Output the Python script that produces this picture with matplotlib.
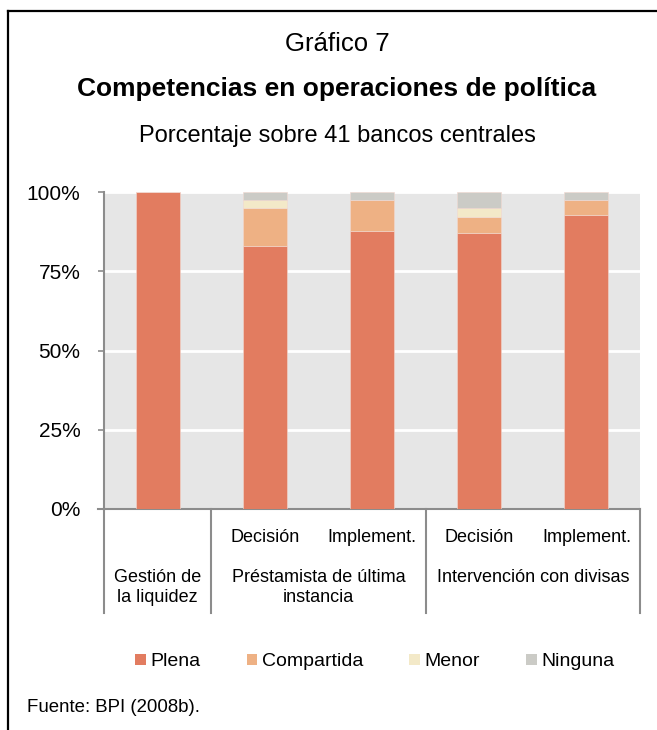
import numpy as np
import matplotlib
matplotlib.use('Agg')
import matplotlib.pyplot as plt
from matplotlib.patches import Patch
from matplotlib.lines import Line2D

plt.rcParams['font.family'] = ['Liberation Sans', 'DejaVu Sans']

# Porcentaje de bancos centrales por tipo de competencia
sub_labels = ['', 'Decisión', 'Implement.', 'Decisión', 'Implement.']
group_labels = ['Gestión de\nla liquidez', 'Préstamista de última\ninstancia',
                'Intervención con divisas']
group_spans = [(0, 0), (1, 2), (3, 4)]

series_names = ['Plena', 'Compartida', 'Menor', 'Ninguna']
plena = [100.0, 82.9, 87.8, 87.2, 92.7]
compartida = [0.0, 12.2, 9.8, 5.0, 4.9]
menor = [0.0, 2.4, 0.0, 2.6, 0.0]
ninguna = [0.0, 2.5, 2.4, 5.2, 2.4]

COLORS = ['#E27C60', '#EEB184', '#F3E9C8', '#CBCBC6']

fig = plt.figure(figsize=(6.57, 7.30), dpi=100, facecolor='white')
W, H = 657, 730

ax = fig.add_axes([104 / W, 1 - 509 / H, 536 / W, 317 / H])
ax.set_facecolor('#E6E6E6')

x = np.arange(len(plena))
bottom = np.zeros(len(plena))
for name, vals, col in zip(series_names, [plena, compartida, menor, ninguna], COLORS):
    vals = np.array(vals)
    ax.bar(x, vals, width=0.41, bottom=bottom, color=col, edgecolor='#F2D8D0',
           linewidth=0.4, zorder=3)
    bottom += vals

ax.set_xlim(-0.5, len(plena) - 0.5)
ax.set_ylim(0, 100)
ax.set_yticks([0, 25, 50, 75, 100])
ax.set_yticklabels(['0%', '25%', '50%', '75%', '100%'])
ax.tick_params(axis='y', labelsize=15, length=4, width=1.2, color='#8C8C8C',
               pad=13, labelcolor='black')
ax.set_xticks([])
ax.grid(axis='y', color='white', linewidth=2, zorder=1)
for side in ['top', 'right']:
    ax.spines[side].set_visible(False)
for side in ['left', 'bottom']:
    ax.spines[side].set_color('#8C8C8C')
    ax.spines[side].set_linewidth(1.5)

# Separadores y etiquetas de categorías bajo el eje
trans = ax.get_xaxis_transform()
sep_bottom = -(613 - 509) / 317
for pos in [-0.5, 0.5, 2.5, 4.5]:
    ax.add_line(Line2D([pos, pos], [0, sep_bottom], transform=trans, color='#8C8C8C',
                       linewidth=1.5, clip_on=False))
ax.add_line(Line2D([-0.56, -0.5], [0, 0], transform=trans, color='#8C8C8C',
                   linewidth=1.5, clip_on=False))

for xi, lab in zip(x, sub_labels):
    if lab:
        ax.text(xi, -(537 - 509) / 317, lab, transform=trans, ha='center', va='center',
                fontsize=13)
for (a, b), lab in zip(group_spans, group_labels):
    ax.text((a + b) / 2, -(569 - 509) / 317, lab, transform=trans, ha='center', va='top',
            fontsize=13, linespacing=1.2)

# Títulos
fig.text(337 / W, 1 - 44 / H, 'Gráfico 7', ha='center', va='center', fontsize=18.5)
fig.text(337 / W, 1 - 89 / H, 'Competencias en operaciones de política', ha='center',
         va='center', fontsize=19, fontweight='bold')
fig.text(337 / W, 1 - 136 / H, 'Porcentaje sobre 41 bancos centrales', ha='center',
         va='center', fontsize=17)

# Leyenda
handles = [Patch(facecolor=c, edgecolor='none') for c in COLORS]
fig.legend(handles, series_names, loc='center', bbox_to_anchor=(375 / W, 1 - 662 / H),
           ncol=4, frameon=False, fontsize=14, handlelength=0.55, handleheight=0.55,
           handletextpad=0.25, columnspacing=2.35)

fig.text(27 / W, 1 - 707 / H, 'Fuente: BPI (2008b).', ha='left', va='center', fontsize=13.4)

# Marco del gráfico
fig.add_artist(Line2D([8 / W, 8 / W], [0, 1 - 11 / H], transform=fig.transFigure,
                      color='black', linewidth=1.6))
fig.add_artist(Line2D([8 / W, 1], [1 - 11 / H, 1 - 11 / H], transform=fig.transFigure,
                      color='black', linewidth=1.6))

plt.savefig('out.png', dpi=100, facecolor='white')
plt.close()
